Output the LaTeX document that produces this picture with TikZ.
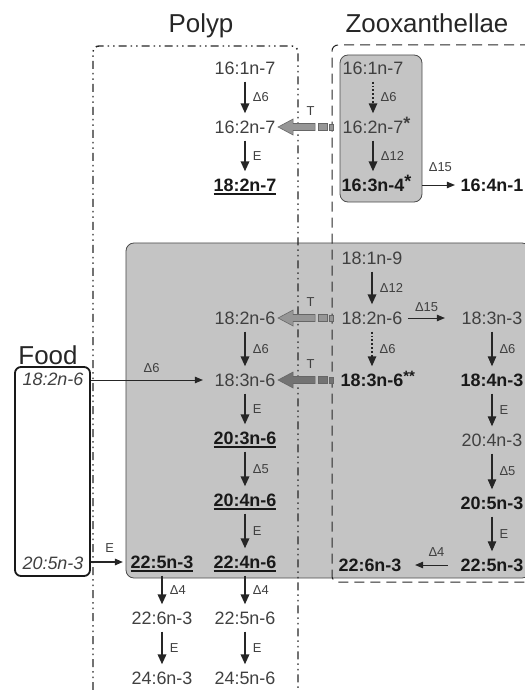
\documentclass[tikz,border=0pt]{standalone}
\usepackage{fontspec}
\setmainfont{Liberation Sans}
\usetikzlibrary{arrows.meta, positioning, backgrounds, calc}

\definecolor{fatext}{RGB}{64,64,64}
\definecolor{boxgray}{RGB}{196,196,196}
\definecolor{tgray}{RGB}{150,150,150}
\definecolor{tdark}{RGB}{115,115,115}

% thick underline for the acids the polyp makes
\newcommand{\ulfa}[1]{\leavevmode\setbox0\hbox{#1}\rlap{\rule[-3bp]{\wd0}{1.3bp}}\box0}
\newcommand{\fastar}[1]{\rlap{\raisebox{4bp}{#1}}}

\begin{document}
\begin{tikzpicture}[x=1bp, y=-1bp,
    fa/.style={inner xsep=2bp, inner ysep=7bp, text height=13bp, text depth=0pt, font=\fontsize{18}{18}\selectfont, text=fatext},
    hi/.style={fa, font=\fontsize{18}{18}\selectfont\bfseries, text=black!90},
    food/.style={fa, font=\fontsize{18}{18}\selectfont\itshape},
    title/.style={font=\fontsize{26}{26}\selectfont, text=black!85, inner sep=0pt, anchor=base},
    enz/.style={font=\fontsize{13}{13}\selectfont, text=fatext, inner sep=1bp},
    conv/.style={draw=black!85, line width=1.9bp, -{Triangle[length=10bp, width=8.5bp]}},
    weak/.style={conv, dotted, line width=1.4bp},
    flux/.style={draw=black!85, line width=0.9bp, -{Triangle[length=8bp, width=6.5bp]}},
    tarrow/.style={draw=black!60, fill=tgray, line width=0.6bp},
    cell/.style={draw=black!70, fill=boxgray, line width=0.8bp, rounded corners=8bp},
    polypline/.style={draw=black!85, line width=1.4bp, dash pattern=on 8bp off 4bp on 1.5bp off 4bp on 1.5bp off 4bp},
    zooxline/.style={draw=black!85, line width=1bp, dash pattern=on 10bp off 6bp}
]
    \useasboundingbox (0,0) rectangle (525,690);

    % Titles
    \node[title] (polyp) at (201,33) {Polyp};
    \node[title] (zoox) at (427,33) {Zooxanthellae};
    \node[title] (food) at (48,364) {Food};

    % Food box
    \node[draw=black!90, line width=1.8bp, rounded corners=6bp, minimum width=75bp, minimum height=209bp] (foodbox) at (52.5,471.5) {};
    \node[food] (f1) at (53,379) {18:2n-6};
    \node[food] (f2) at (53,563) {20:5n-3};

    % Polyp, top
    \node[fa] (p1) at (245,68) {16:1n-7};
    \node[fa] (p2) at (245,127) {16:2n-7};
    \node[hi] (p3) at (245,185) {\ulfa{18:2n-7}};

    % Zooxanthellae, top
    \node[fa] (z1) at (373,68) {16:1n-7};
    \node[fa] (z2) at (373,127) {16:2n-7\fastar{\textbf{*}}};
    \node[hi] (z3) at (373,185) {16:3n-4\fastar{*}};
    \node[hi] (z4) at (492,185) {16:4n-1};

    % Polyp, main columns
    \node[fa] (p6) at (245,318) {18:2n-6};
    \node[fa] (p7) at (245,380) {18:3n-6};
    \node[hi] (p8) at (245,438) {\ulfa{20:3n-6}};
    \node[hi] (p9) at (245,500) {\ulfa{20:4n-6}};
    \node[hi] (p10) at (245,562) {\ulfa{22:4n-6}};
    \node[fa] (p11) at (245,618) {22:5n-6};
    \node[fa] (p12) at (245,678) {24:5n-6};
    \node[hi] (q1) at (162,562) {\ulfa{22:5n-3}};
    \node[fa] (q2) at (162,618) {22:6n-3};
    \node[fa] (q3) at (162,678) {24:6n-3};

    % Zooxanthellae, main columns
    \node[fa] (z5) at (372,258) {18:1n-9};
    \node[fa] (z6) at (372,318) {18:2n-6};
    \node[hi] (z7) at (372,380) {18:3n-6\rlap{\raisebox{5bp}{\fontsize{15}{15}\selectfont**}}};
    \node[hi] (z8) at (370,565) {22:6n-3};
    \node[fa] (r1) at (492,318) {18:3n-3};
    \node[hi] (r2) at (492,380) {18:4n-3};
    \node[fa] (r3) at (492,440) {20:4n-3};
    \node[hi] (r4) at (492,503) {20:5n-3};
    \node[hi] (r5) at (492,565) {22:5n-3};

    % Cells
    \begin{scope}[on background layer]
        \node[cell, minimum width=82bp, minimum height=147bp] (zcell) at (381,128.5) {};
        \node[cell, minimum width=404bp, minimum height=335bp] (pcell) at (328,410.5) {};
    \end{scope}

    % Frames
    \draw[polypline, rounded corners=6bp] (93,690) -- (93,46) -- (298,46) -- (298,690);
    \draw[zooxline, rounded corners=6bp] (530,45) -- (332,45) -- (332,582) -- (530,582);

    % Conversions
    \foreach \a/\b/\lab in {p1/p2/Δ6, p2/p3/E, p6/p7/Δ6, p7/p8/E, p8/p9/Δ5, p9/p10/E, p10/p11/Δ4, p11/p12/E,
                            q1/q2/Δ4, q2/q3/E, z2/z3/Δ12, z5/z6/Δ12}
        \draw[conv] (\a) -- (\b) node[midway, enz, right=6bp] {\lab};
    \foreach \a/\b/\lab in {z1/z2/Δ6, z6/z7/Δ6}
        \draw[weak] (\a) -- (\b) node[midway, enz, right=6bp] {\lab};
    \foreach \a/\b/\lab in {r1/r2/Δ6, r2/r3/E, r3/r4/Δ5, r4/r5/E}
        \draw[conv, line width=1.1bp] (\a) -- (\b) node[midway, enz, right=6bp] {\lab};

    \draw[flux, shorten >=3.5bp] (zcell.east |- z3) -- (z4) node[midway, enz, above=12bp] {Δ15};
    \draw[flux, shorten >=9.5bp] (foodbox.east |- p7) -- (p7) node[midway, enz, above=6bp] {Δ6};
    \draw[flux, line width=1.4bp, shorten >=5.5bp] (foodbox.east |- q1) -- (q1) node[midway, enz, above=8bp] {E};
    \draw[flux, shorten <=3.5bp, shorten >=14.5bp] (z6) -- (r1) node[pos=0.4, enz, above=5bp] {Δ15};
    \draw[flux, shorten <=10.5bp, shorten >=11.5bp] (r5) -- (z8) node[pos=0.4, enz, above=7bp] {Δ4};

    % Transfers to the polyp
    \foreach \d/\c in {p2/tgray, p6/tgray, p7/tdark} {
        \draw[tarrow, fill=\c] ($(\d.east)+(0.5,0)$) -- ++(15,-8) -- ++(0,4.5) -- ++(22,0) -- ++(0,7) -- ++(-22,0) -- ++(0,4.5) -- cycle;
        \draw[tarrow, fill=\c] ($(\d.east)+(41,-3.5)$) rectangle ++(9,7);
        \draw[tarrow, fill=\c] ($(\d.east)+(52,-3)$) rectangle ++(4,6);
        \node[enz] at ($(\d.east)+(33,-16)$) {T};
    }
\end{tikzpicture}
\end{document}
